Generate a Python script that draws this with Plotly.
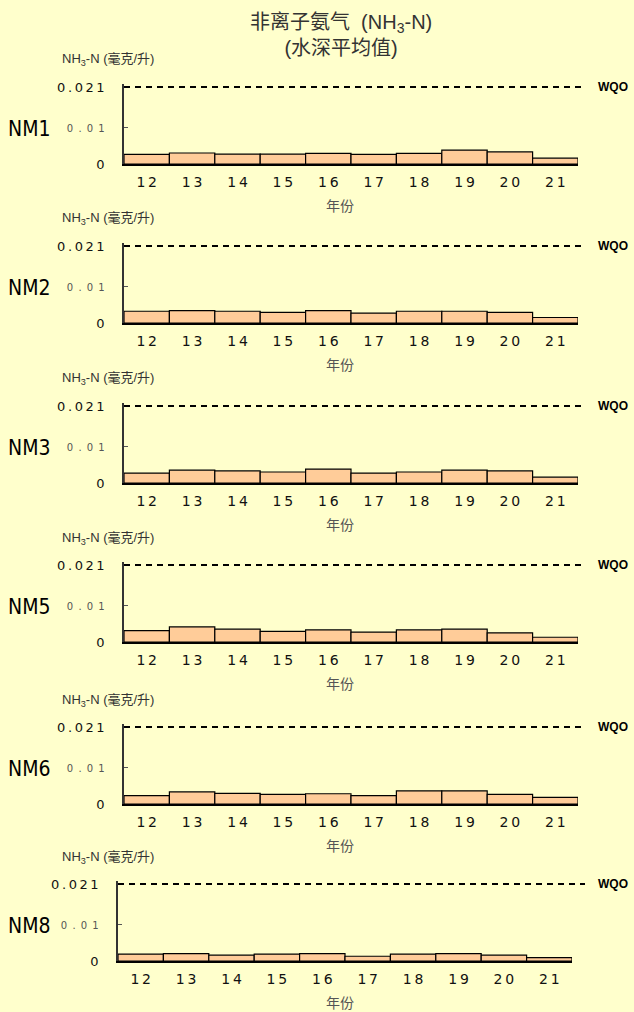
import plotly.graph_objects as go

# ---------------- data ----------------
years = ["12", "13", "14", "15", "16", "17", "18", "19", "20", "21"]
stations = ["NM1", "NM2", "NM3", "NM5", "NM6", "NM8"]
nm1 = [0.0026, 0.0030, 0.0027, 0.0027, 0.0029, 0.0026, 0.0029, 0.0038, 0.0033, 0.0016]
nm2 = [0.0032, 0.0034, 0.0032, 0.0029, 0.0034, 0.0027, 0.0032, 0.0032, 0.0029, 0.0015]
nm3 = [0.0027, 0.0035, 0.0033, 0.0030, 0.0038, 0.0027, 0.0030, 0.0035, 0.0033, 0.0016]
nm5 = [0.0031, 0.0041, 0.0035, 0.0029, 0.0033, 0.0027, 0.0033, 0.0035, 0.0025, 0.0013]
nm6 = [0.0023, 0.0033, 0.0029, 0.0026, 0.0028, 0.0023, 0.0036, 0.0036, 0.0026, 0.0018]
nm8 = [0.0019, 0.0020, 0.0016, 0.0019, 0.0020, 0.0013, 0.0019, 0.0020, 0.0016, 0.0009]
series = [nm1, nm2, nm3, nm5, nm6, nm8]
wqo = 0.021
wqo_label = "WQO"
ytick_vals = [0, 0.01, 0.021]
ytick_labels = ["0", "0 . 0 1", "0.021"]
title_text = "非离子氨气  (NH<sub>3</sub>-N)<br>(水深平均值)"
y_title = "NH<sub>3</sub>-N (毫克/升)"
x_title = "年份"

# ---------------- layout constants (pixels) ----------------
W, H = 634, 1012
zero_px = [164, 323, 483, 642, 804, 961]
left_px = [124, 124, 124, 124, 124, 118]
plot_w = 454
px_per_wqo = 77.0
ymax = 0.0218
dash_end_px = 585

BG = "#FFFFCC"
BAR = "#FFCC99"
TXT = "#333333"


def spaced(s):
    return "\u2009".join(s)


def ytick_text(lbl):
    if lbl.startswith("0 ."):
        return "<span style='font-size:10px;color:#555555'>" + lbl.replace(" ", "\u00a0\u2009") + "</span>"
    return spaced(lbl)


fig = go.Figure()
layout = dict(
    template="none",
    width=W, height=H, autosize=False,
    margin=dict(l=0, r=0, t=0, b=0, pad=0),
    paper_bgcolor=BG, plot_bgcolor=BG,
    showlegend=False,
    font=dict(family="DejaVu Sans, Noto Sans CJK SC", color="#111111"),
    annotations=[], shapes=[],
)

for i, (name, vals) in enumerate(zip(stations, series)):
    sfx = "" if i == 0 else str(i + 1)
    xa, ya = "x" + sfx, "y" + sfx
    z = zero_px[i]
    top = z - px_per_wqo * ymax / wqo
    L = left_px[i]
    fig.add_trace(go.Bar(
        x=years, y=vals, width=1.0, xaxis=xa, yaxis=ya,
        marker=dict(color=BAR, line=dict(color="#000000", width=1.2)),
        hoverinfo="x+y",
    ))
    layout["xaxis" + sfx] = dict(
        domain=[L / W, (L + plot_w) / W], anchor=ya, type="category",
        range=[-0.5, 9.5], showgrid=False, zeroline=False, automargin=False,
        showline=True, linecolor="#000000", linewidth=2, ticks="",
        tickvals=years, ticktext=[spaced(y) for y in years],
        tickfont=dict(size=14, color="#111111"), ticklabelstandoff=4,
        fixedrange=True,
    )
    layout["yaxis" + sfx] = dict(
        domain=[1 - z / H, 1 - top / H], anchor=xa,
        range=[0, ymax], showgrid=False, zeroline=False, automargin=False,
        showline=True, linecolor="#333333", linewidth=1.5,
        ticks="inside", ticklen=4, tickcolor="#555555", tickwidth=1,
        tickvals=ytick_vals, ticktext=[ytick_text(t) for t in ytick_labels],
        tickfont=dict(size=13, color="#111111"), ticklabelstandoff=15,
        fixedrange=True,
    )
    # WQO dashed line
    layout["shapes"].append(dict(
        type="line", xref="paper", yref=ya,
        x0=L / W, x1=dash_end_px / W, y0=wqo, y1=wqo,
        line=dict(color="#000000", width=2, dash="6px,5px"),
    ))
    layout["annotations"].append(dict(
        text="<b>" + wqo_label + "</b>", xref="paper", yref=ya,
        x=596 / W, y=wqo, xanchor="left", yanchor="middle", showarrow=False,
        font=dict(size=12, family="Liberation Sans, Arial", color="#000000"),
    ))
    # station label
    layout["annotations"].append(dict(
        text=name, xref="paper", yref="paper",
        x=6 / W, y=1 - (z - 35) / H, xanchor="left", yanchor="middle",
        showarrow=False,
        font=dict(size=21, family="Liberation Sans Narrow, DejaVu Sans Condensed, Liberation Sans",
                  color="#000000"),
    ))
    # y axis title
    layout["annotations"].append(dict(
        text=y_title, xref="paper", yref="paper",
        x=60 / W, y=1 - (z - 104) / H, xanchor="left", yanchor="middle",
        showarrow=False,
        font=dict(size=13, family="Liberation Sans, Noto Sans CJK SC", color=TXT),
    ))
    # x axis title
    layout["annotations"].append(dict(
        text=x_title, xref="paper", yref="paper",
        x=340 / W, y=1 - (z + 41) / H, xanchor="center", yanchor="middle",
        showarrow=False,
        font=dict(size=14, family="Noto Sans CJK SC", color="#555555"),
    ))

layout["annotations"].append(dict(
    text=title_text, xref="paper", yref="paper",
    x=341 / W, y=1 - 35 / H, xanchor="center", yanchor="middle",
    showarrow=False,
    font=dict(size=20, family="Liberation Sans, Noto Sans CJK SC", color=TXT),
))

fig.update_layout(**layout)
fig.write_html(
    "out.html",
    config={"displayModeBar": False},
    post_script="document.body.style.margin='0';document.body.style.background='#FFFFCC';",
)
